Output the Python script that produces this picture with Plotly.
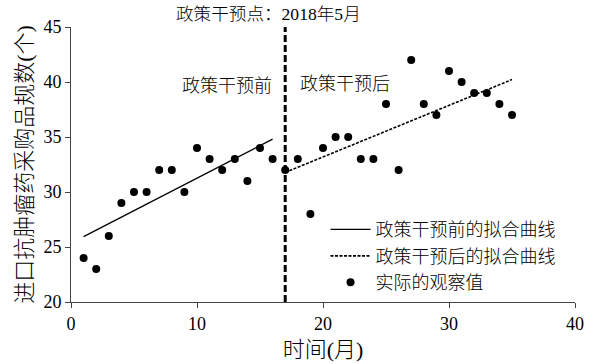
import plotly.graph_objects as go

# Monthly observations (month index, number of imported anti-tumour drug products)
months = list(range(1, 36))
counts = [24, 23, 26, 29, 30, 30, 32, 32, 30, 34, 33, 32, 33, 31, 34, 33,
          32, 33, 28, 34, 35, 35, 33, 33, 38, 32, 42, 38, 37, 41, 40, 39,
          39, 38, 37]

# Fitted trend segments before / after the policy point
pre_fit_x = [1, 16]
pre_fit_y = [25.94, 34.81]
post_fit_x = [17, 35]
post_fit_y = [31.78, 40.22]

policy_month = 17

FONT = "Liberation Serif, Times New Roman, Noto Sans CJK SC, serif"
FS = 18

fig = go.Figure()
fig.add_trace(go.Scatter(x=pre_fit_x, y=pre_fit_y, mode="lines",
                         line=dict(color="black", width=1.3),
                         name="政策干预前的拟合曲线"))
fig.add_trace(go.Scatter(x=post_fit_x, y=post_fit_y, mode="lines",
                         line=dict(color="black", width=1.6, dash="3px,1.5px"),
                         name="政策干预后的拟合曲线"))
fig.add_trace(go.Scatter(x=months, y=counts, mode="markers",
                         marker=dict(color="black", size=8),
                         name="实际的观察值"))

fig.add_shape(type="line", x0=policy_month, x1=policy_month, y0=20, y1=45,
              xref="x", yref="y",
              line=dict(color="black", width=3, dash="7px,3px"))

fig.add_annotation(x=15.7, y=1.0, xref="x", yref="paper",
                   yanchor="bottom", yshift=1, showarrow=False,
                   text="政策干预点：2018年5月",
                   font=dict(size=17.6, color="black", weight=300))
fig.add_annotation(x=12.36, y=39.6, xref="x", yref="y", showarrow=False,
                   text="政策干预前", font=dict(size=FS, color="black", weight=300))
fig.add_annotation(x=21.75, y=39.8, xref="x", yref="y", showarrow=False,
                   text="政策干预后", font=dict(size=FS, color="black", weight=300))

fig.update_layout(
    width=599, height=364,
    margin=dict(l=71, r=24, t=27, b=62, autoexpand=False),
    plot_bgcolor="white", paper_bgcolor="white",
    font=dict(family=FONT, size=FS, color="black", weight=300),
    showlegend=True,
    legend=dict(x=0.505, y=0.33, xanchor="left", yanchor="top",
                bgcolor="rgba(0,0,0,0)", font=dict(size=FS, weight=300),
                tracegroupgap=0, itemwidth=40),
    xaxis=dict(range=[0, 40], tickvals=[0, 10, 20, 30, 40],
               showgrid=False, zeroline=False, showline=True,
               linecolor="#444", linewidth=1, ticks="outside",
               ticklen=5, tickcolor="#444", automargin=False,
               title=dict(text="时间(月)", standoff=9)),
    yaxis=dict(range=[20, 45], tickvals=[20, 25, 30, 35, 40, 45],
               showgrid=False, zeroline=False, showline=True,
               linecolor="#444", linewidth=1, ticks="outside",
               ticklen=5, tickcolor="#444", automargin=False,
               title=dict(text="进口抗肿瘤药采购品规数(个)", standoff=4)),
)

fig.write_html("out.html")
